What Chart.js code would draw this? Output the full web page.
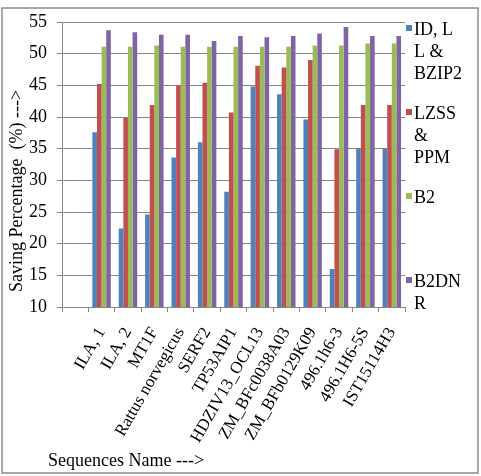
<!DOCTYPE html>
<html>
<head>
<meta charset="utf-8">
<script src="https://cdn.jsdelivr.net/npm/chart.js@4/dist/chart.umd.min.js"></script>
<style>
  html, body { margin: 0; padding: 0; background: #fff; }
  #c { display: block; }
</style>
</head>
<body>
<canvas id="c" width="481" height="476"></canvas>
<script>
// first category is left empty, like in the original sheet
const categories = ['', 'ILA, 1', 'ILA, 2', 'MT1F', 'Rattus norvegicus', 'SERF2', 'TP53AIP1',
  'HDZIV13_OCL13', 'ZM_BFc0038A03', 'ZM_BFb0129K09', '496.1h6-3', '496.1H6-5S', 'IST15114H3'];
const idBzip = [null, 37.6, 22.4, 24.6, 33.6, 36.0, 28.2, 44.8, 43.6, 39.6, 16.0, 35.0, 35.0];
const lzssPpm = [null, 45.2, 39.9, 41.9, 45.0, 45.4, 40.7, 48.1, 47.8, 49.0, 34.9, 41.9, 41.9];
const b2 = [null, 51.1, 51.1, 51.3, 51.1, 51.1, 51.1, 51.1, 51.1, 51.3, 51.3, 51.6, 51.6];
const b2dnr = [null, 53.7, 53.4, 53.0, 53.0, 52.0, 52.8, 52.6, 52.8, 53.2, 54.2, 52.8, 52.8];
const seriesNames = [['ID, L', 'L &', 'BZIP2'], ['LZSS', '&', 'PPM'], ['B2'], ['B2DN', 'R']];
const colors = ['#4F81BD', '#C0504D', '#9BBB59', '#8064A2'];
const yTicks = [10, 15, 20, 25, 30, 35, 40, 45, 50, 55];

const FONT = '"Liberation Serif", "Times New Roman", serif';
const GRID = '#868686';

// titles, legend and outer frame
const extras = {
  id: 'extras',
  afterDraw(chart) {
    const ctx = chart.ctx;
    ctx.save();
    ctx.strokeStyle = '#8c8c8c';
    ctx.lineWidth = 1.5;
    ctx.strokeRect(2, 8, 476, 465);

    ctx.fillStyle = '#000';
    ctx.font = '18px ' + FONT;
    ctx.textBaseline = 'middle';

    // y title
    ctx.save();
    ctx.translate(17, 191);
    ctx.rotate(-Math.PI / 2);
    ctx.textAlign = 'center';
    ctx.fillText('Saving Percentage  (%) --->', 0, 0);
    ctx.restore();

    // x title
    ctx.textAlign = 'left';
    ctx.fillText('Sequences Name --->', 48, 461);

    // legend
    seriesNames.forEach((lines, i) => {
      const y0 = 30 + i * 84;
      ctx.fillStyle = colors[i];
      ctx.fillRect(406, y0 - 5, 6, 6);
      ctx.fillStyle = '#000';
      lines.forEach((t, j) => ctx.fillText(t, 414, y0 + j * 22));
    });
    ctx.restore();
  }
};

new Chart(document.getElementById('c'), {
  type: 'bar',
  data: {
    labels: categories,
    datasets: [
      { label: 'ID, L L & BZIP2', data: idBzip, backgroundColor: colors[0] },
      { label: 'LZSS & PPM', data: lzssPpm, backgroundColor: colors[1] },
      { label: 'B2', data: b2, backgroundColor: colors[2] },
      { label: 'B2DNR', data: b2dnr, backgroundColor: colors[3] }
    ]
  },
  options: {
    responsive: false,
    animation: false,
    datasets: { bar: { categoryPercentage: 0.7, barPercentage: 1.0 } },
    layout: { padding: { left: 0, right: 76, top: 22, bottom: 0 } },
    plugins: { legend: { display: false }, tooltip: { enabled: false } },
    scales: {
      x: {
        afterFit: (s) => { s.height = 169; },
        grid: { drawOnChartArea: false, color: GRID, tickLength: 5, offset: true },
        border: { color: GRID },
        ticks: {
          autoSkip: false, maxRotation: 60, minRotation: 60,
          color: '#000', font: { family: FONT, size: 17 }, padding: 12
        }
      },
      y: {
        min: 10, max: 55,
        afterFit: (s) => { s.width = 62; },
        afterBuildTicks: (s) => { s.ticks = yTicks.map(v => ({ value: v })); },
        grid: { color: GRID, tickLength: 5 },
        border: { color: GRID },
        ticks: { color: '#000', font: { family: FONT, size: 18 }, padding: 10 }
      }
    }
  },
  plugins: [extras]
});
</script>
</body>
</html>
